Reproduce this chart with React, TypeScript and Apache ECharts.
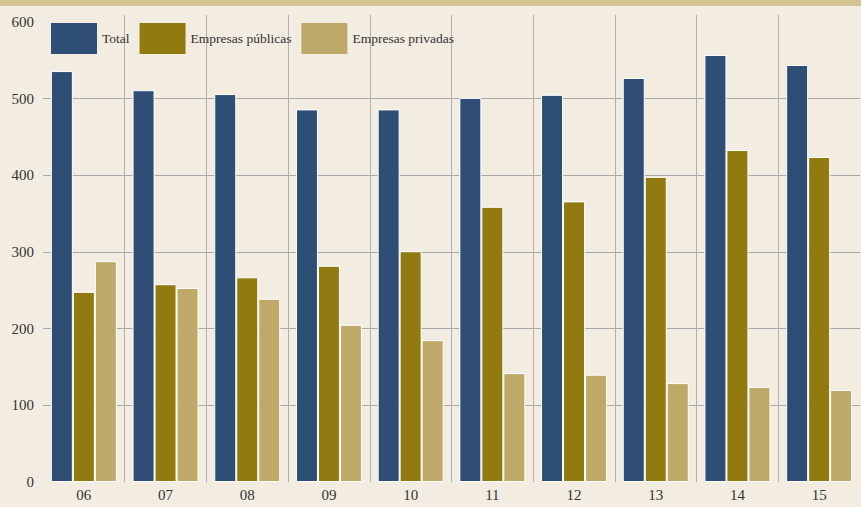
import React, { useEffect, useRef } from "react";
import * as echarts from "echarts";

const categories = ["06", "07", "08", "09", "10", "11", "12", "13", "14", "15"];
const totalValues = [536, 511, 506, 486, 486, 501, 505, 527, 557, 544];
const publicValues = [248, 258, 267, 282, 301, 359, 366, 398, 433, 424];
const privateValues = [288, 253, 239, 205, 185, 142, 140, 129, 124, 120];
const seriesNames = ["Total", "Empresas públicas", "Empresas privadas"];
const colors = ["#2e4e76", "#917a10", "#bfa968"];

const FONT = "'Liberation Serif', 'DejaVu Serif', serif";

export default function App() {
  const ref = useRef<HTMLDivElement>(null);
  useEffect(() => {
    if (!ref.current) return;
    const chart = echarts.init(ref.current, null, { renderer: "svg" });
    const dataSets = [totalValues, publicValues, privateValues];
    chart.setOption({
      animation: false,
      backgroundColor: "#f2ede0",
      textStyle: { fontFamily: FONT },
      graphic: [
        {
          type: "rect",
          shape: { x: 0, y: 0, width: 861, height: 6 },
          style: { fill: "#d4c494" },
          silent: true,
        },
      ],
      legend: {
        left: 46,
        top: 18,
        itemWidth: 46,
        itemHeight: 31,
        itemGap: 10,
        icon: "rect",
        itemStyle: { borderWidth: 0 },
        textStyle: { fontFamily: FONT, fontSize: 13.5, color: "#333" },
        data: seriesNames,
      },
      grid: [
        { left: 43, right: 1, top: 22, bottom: 25 },
        { left: 43, right: 1, top: 15, bottom: 25 },
      ],
      xAxis: [
        {
          type: "category",
          gridIndex: 0,
          data: categories,
          axisLine: { show: false },
          axisTick: { show: false },
          axisLabel: { fontFamily: FONT, fontSize: 15, color: "#333", margin: 5 },
          splitLine: { show: false },
        },
        {
          type: "category",
          gridIndex: 1,
          data: categories,
          axisLine: { show: false },
          axisTick: { show: false },
          axisLabel: { show: false },
          splitLine: {
            show: true,
            showMinLine: false,
            showMaxLine: false,
            lineStyle: { color: "#b0b0b0", width: 1 },
          },
        },
      ],
      yAxis: [
        {
          type: "value",
          gridIndex: 0,
          min: 0,
          max: 600,
          interval: 100,
          axisLine: { show: false },
          axisTick: { show: false },
          axisLabel: { fontFamily: FONT, fontSize: 15, color: "#333", margin: 9 },
          splitLine: {
            show: true,
            showMinLine: false,
            showMaxLine: false,
            lineStyle: { color: "#a8a8a8", width: 1 },
          },
        },
        {
          type: "value",
          gridIndex: 1,
          min: 0,
          max: 600,
          show: false,
          splitLine: { show: false },
        },
      ],
      series: seriesNames.map((name, i) => ({
        name,
        type: "bar",
        xAxisIndex: 0,
        yAxisIndex: 0,
        data: dataSets[i],
        barWidth: 22,
        barGap: "0%",
        itemStyle: { color: colors[i], borderColor: "#ffffff", borderWidth: 1 },
        z: 3,
      })),
    });
    return () => chart.dispose();
  }, []);
  return (
    <div
      ref={ref}
      style={{ position: "fixed", left: 0, top: 0, width: 861, height: 507 }}
    />
  );
}
